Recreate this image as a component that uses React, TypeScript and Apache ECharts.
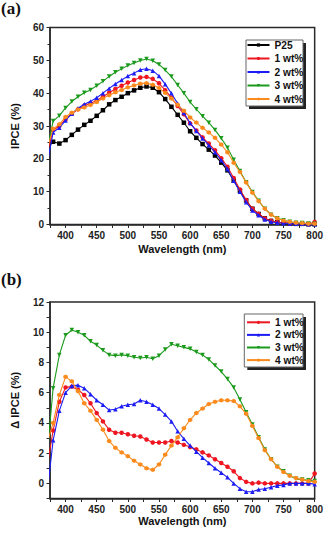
import React, { useEffect, useRef } from "react";
import * as echarts from "echarts";

const wavelengths = [370, 380, 390, 400, 410, 420, 430, 440, 450, 460, 470, 480, 490, 500, 510, 520, 530, 540, 550, 560, 570, 580, 590, 600, 610, 620, 630, 640, 650, 660, 670, 680, 690, 700, 710, 720, 730, 740, 750, 760, 770, 780, 790, 800];

const seriesNamesA = ["P25", "1 wt%", "2 wt%", "3 wt%", "4 wt%"];
const seriesNamesB = ["1 wt%", "2 wt%", "3 wt%", "4 wt%"];

// Panel (a): IPCE (%)
const ipceP25 = [23, 25.2, 24.65, 25.7, 27.3, 28.9, 30.35, 31.6, 33.1, 34.8, 36.6, 37.9, 38.9, 40.0, 40.85, 41.65, 42.05, 41.65, 40.3, 38.2, 35.85, 33.4, 31.0, 28.4, 26.4, 24.5, 22.8, 21.0, 18.85, 16.5, 13.35, 10.3, 7.35, 4.8, 3.2, 1.85, 1.1, 0.7, 0.5, 0.3, 0.2, 0.2, 0.1, 0.1];
const ipce1 = [21.3, 28.7, 30.0, 32.0, 33.7, 35.1, 36.2, 36.9, 37.75, 38.9, 40.15, 41.25, 42.25, 43.25, 44.0, 44.75, 44.95, 44.35, 43.0, 40.9, 38.65, 36.1, 33.55, 30.8, 28.65, 26.55, 24.65, 22.6, 20.2, 17.6, 14.15, 10.65, 7.45, 4.8, 3.25, 1.85, 1.1, 0.7, 0.5, 0.3, 0.2, 0.2, 0.1, 0.75];
const ipce2 = [18, 28.05, 29.45, 31.7, 33.75, 35.4, 36.65, 37.5, 38.6, 40.0, 41.45, 42.8, 44.0, 45.2, 46.1, 47.15, 47.45, 46.85, 45.25, 42.75, 39.95, 36.85, 33.95, 30.9, 28.5, 26.2, 24.15, 22.0, 19.55, 16.9, 13.35, 9.95, 6.8, 4.25, 2.8, 1.5, 0.85, 0.55, 0.4, 0.3, 0.2, 0.2, 0.1, 0.05];
const ipce3 = [22.5, 31.5, 33.15, 35.5, 37.45, 38.9, 40.15, 41.0, 42.25, 43.6, 45.1, 46.35, 47.4, 48.45, 49.2, 49.95, 50.4, 49.9, 48.75, 47.05, 45.05, 42.5, 40.0, 37.3, 35.1, 33.0, 31.0, 28.8, 26.25, 23.4, 19.7, 16.3, 12.9, 9.9, 7.2, 4.8, 3.0, 1.9, 1.3, 0.8, 0.5, 0.45, 0.3, 0.25];
const ipce4 = [22.8, 29.2, 30.5, 32.75, 34.05, 35.0, 35.65, 36.4, 37.3, 38.35, 39.4, 40.25, 40.95, 41.8, 42.35, 42.9, 43.05, 42.55, 41.55, 40.1, 38.35, 36.45, 34.65, 32.6, 31.05, 29.45, 28.05, 26.4, 24.35, 22.0, 18.8, 16.0, 12.8, 9.7, 7.1, 4.8, 3.0, 1.9, 1.2, 0.8, 0.55, 0.45, 0.25, 0.2];

// Panel (b): delta IPCE (%)
const delta1 = [1.0, 3.5, 5.4, 6.35, 6.4, 6.2, 5.85, 5.3, 4.65, 4.1, 3.55, 3.35, 3.35, 3.25, 3.15, 3.1, 2.9, 2.7, 2.7, 2.7, 2.8, 2.7, 2.55, 2.4, 2.25, 2.05, 1.85, 1.6, 1.35, 1.1, 0.8, 0.35, 0.1, 0.0, 0.05, 0, 0, 0, 0, 0, 0, 0, 0, 0.65];
const delta2 = [-0.85, 2.85, 4.8, 6.0, 6.45, 6.5, 6.3, 5.9, 5.5, 5.2, 4.85, 4.9, 5.1, 5.2, 5.25, 5.5, 5.4, 5.2, 4.95, 4.55, 4.1, 3.45, 2.95, 2.5, 2.1, 1.7, 1.35, 1.0, 0.7, 0.4, 0.0, -0.35, -0.55, -0.55, -0.4, -0.35, -0.25, -0.15, -0.1, 0, 0, 0, 0, -0.05];
const delta3 = [1.7, 6.3, 8.5, 9.8, 10.15, 10.0, 9.8, 9.4, 9.15, 8.8, 8.5, 8.45, 8.5, 8.45, 8.35, 8.3, 8.35, 8.25, 8.45, 8.85, 9.2, 9.1, 9.0, 8.9, 8.7, 8.5, 8.2, 7.8, 7.4, 6.9, 6.35, 5.55, 4.7, 3.9, 3.05, 2.25, 1.6, 1.1, 0.8, 0.5, 0.3, 0.25, 0.2, 0.15];
const delta4 = [2.6, 4.0, 5.85, 7.05, 6.75, 6.1, 5.3, 4.8, 4.2, 3.55, 2.8, 2.35, 2.05, 1.8, 1.5, 1.25, 1.0, 0.9, 1.25, 1.9, 2.5, 3.05, 3.65, 4.2, 4.65, 4.95, 5.25, 5.4, 5.5, 5.5, 5.45, 5.1, 4.6, 3.8, 3.0, 2.2, 1.6, 1.1, 0.75, 0.5, 0.35, 0.25, 0.15, 0.1];

const FONT = '"Liberation Sans", Arial, Helvetica, sans-serif';
const AXIS = "#2a2a2a";

const styles: Record<string, { color: string; symbol: string; rotate?: number }> = {
  "P25": { color: "#000000", symbol: "rect" },
  "1 wt%": { color: "#ee1620", symbol: "circle" },
  "2 wt%": { color: "#1c1cf5", symbol: "triangle" },
  "3 wt%": { color: "#1b9a1b", symbol: "triangle", rotate: 180 },
  "4 wt%": { color: "#fb8a1d", symbol: "path://M0,-1L0.866,-0.5L0.866,0.5L0,1L-0.866,0.5L-0.866,-0.5Z" },
};

function pairs(ys: number[]) {
  return wavelengths.map((x, i) => [x, ys[i]]);
}

function xAxisDef(gridIndex: number, nameGap: number) {
  return {
    type: "value",
    gridIndex,
    min: 375,
    max: 800,
    interval: 25,
    axisLine: { show: true, onZero: false, lineStyle: { color: AXIS, width: 1.5 } },
    axisTick: { show: true, length: 3.5, lineStyle: { color: AXIS, width: 1 } },
    axisLabel: {
      formatter: (v: number) => (v % 50 === 0 ? String(v) : ""),
      fontSize: 10,
      fontWeight: "bold",
      fontFamily: FONT,
      color: "#222",
      margin: 6,
    },
    splitLine: { show: false },
    name: "Wavelength (nm)",
    nameLocation: "middle",
    nameGap,
    nameTextStyle: { fontSize: 11, fontWeight: "bold", fontFamily: FONT, color: "#111" },
  };
}

function series(names: string[], data: number[][], axisIndex: number) {
  return names.map((n, i) => ({
    name: n,
    type: "line",
    xAxisIndex: axisIndex,
    yAxisIndex: axisIndex,
    data: pairs(data[i]),
    symbol: styles[n].symbol,
    symbolRotate: styles[n].rotate || 0,
    symbolSize: 4.5,
    showSymbol: true,
    clip: true,
    lineStyle: { color: styles[n].color, width: 1.1 },
    itemStyle: { color: styles[n].color },
    z: 2 + i,
  }));
}

export default function App() {
  const ref = useRef<HTMLDivElement>(null);
  useEffect(() => {
    if (!ref.current) return;
    const chart = echarts.init(ref.current, null, { renderer: "svg" });
    const legendText = { fontSize: 10.2, fontWeight: "bold", fontFamily: FONT, color: "#111", lineHeight: 11 };
    const option = {
      animation: false,
      backgroundColor: "#fff",
      grid: [
        { left: 50, top: 27.5, width: 266, height: 197, show: true, borderColor: AXIS, borderWidth: 1.5 },
        { left: 50, top: 302, width: 266, height: 196.5, show: true, borderColor: AXIS, borderWidth: 1.5 },
      ],
      xAxis: [xAxisDef(0, 18.5), xAxisDef(1, 14)],
      yAxis: [
        {
          type: "value",
          gridIndex: 0,
          min: 0,
          max: 60,
          interval: 10,
          axisLine: { show: true, onZero: false, lineStyle: { color: AXIS, width: 1.5 } },
          axisTick: { show: true, length: 3.5, lineStyle: { color: AXIS, width: 1 } },
          minorTick: { show: true, splitNumber: 2, length: 2.5, lineStyle: { color: AXIS, width: 1 } },
          axisLabel: { fontSize: 10, fontWeight: "bold", fontFamily: FONT, color: "#222", margin: 6 },
          splitLine: { show: false },
          name: "IPCE (%)",
          nameLocation: "middle",
          nameGap: 30,
          nameTextStyle: { fontSize: 11, fontWeight: "bold", fontFamily: FONT, color: "#111" },
        },
        {
          type: "value",
          gridIndex: 1,
          min: -1,
          max: 12,
          interval: 1,
          axisLine: { show: true, onZero: false, lineStyle: { color: AXIS, width: 1.5 } },
          axisTick: { show: true, length: 3.5, lineStyle: { color: AXIS, width: 1 } },
          axisLabel: {
            formatter: (v: number) => (v % 2 === 0 ? String(v) : ""),
            fontSize: 10,
            fontWeight: "bold",
            fontFamily: FONT,
            color: "#222",
            margin: 6,
          },
          splitLine: { show: false },
          name: "\u0394 IPCE (%)",
          nameLocation: "middle",
          nameGap: 30,
          nameTextStyle: { fontSize: 11, fontWeight: "bold", fontFamily: FONT, color: "#111" },
        },
      ],
      legend: [
        {
          data: seriesNamesA,
          orient: "vertical",
          left: 246.5,
          top: 39.5,
          padding: 0,
          itemWidth: 22,
          itemHeight: 4,
          itemGap: 2.5,
          itemTextGap: 1,
          textStyle: legendText,
          z: 10,
        },
        {
          data: seriesNamesB,
          orient: "vertical",
          left: 246,
          top: 316.8,
          padding: 0,
          itemWidth: 23,
          itemHeight: 4,
          itemGap: 1.6,
          itemTextGap: 1,
          textStyle: legendText,
          z: 10,
        },
      ],
      graphic: [
        { type: "rect", z: 8, shape: { x: 249, y: 43, width: 57, height: 66 }, style: { fill: "#222" } },
        { type: "rect", z: 9, shape: { x: 246, y: 40, width: 57, height: 66 }, style: { fill: "#fff", stroke: "#666", lineWidth: 1 } },
        { type: "rect", z: 8, shape: { x: 247.3, y: 317, width: 58.7, height: 53 }, style: { fill: "#222" } },
        { type: "rect", z: 9, shape: { x: 244.3, y: 314, width: 58.7, height: 53 }, style: { fill: "#fff", stroke: "#666", lineWidth: 1 } },
        { type: "text", left: 1, top: 0, style: { text: "(a)", font: 'bold 17px "Liberation Serif", "Times New Roman", serif', fill: "#111" } },
        { type: "text", left: 1, top: 271, style: { text: "(b)", font: 'bold 17px "Liberation Serif", "Times New Roman", serif', fill: "#111" } },
      ],
      series: [
        ...series(seriesNamesA, [ipceP25, ipce1, ipce2, ipce3, ipce4], 0),
        ...series(seriesNamesB, [delta1, delta2, delta3, delta4], 1),
      ],
    };
    chart.setOption(option as any);
    return () => chart.dispose();
  }, []);
  return <div ref={ref} style={{ position: "absolute", left: 0, top: 0, width: 326, height: 540 }} />;
}
